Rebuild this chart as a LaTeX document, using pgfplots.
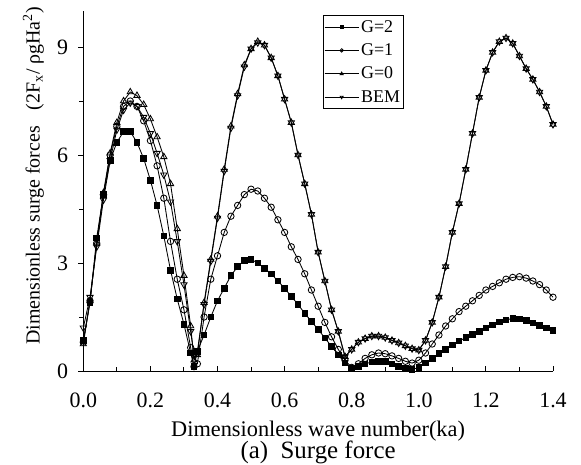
\documentclass[border=0pt]{standalone}
\usepackage{fontspec}
\setmainfont{Liberation Serif}
\usepackage{pgfplots}
\usepackage{pgfplotstable}
\usetikzlibrary{calc}
\pgfplotsset{compat=1.18}

% Dimensionless surge force versus dimensionless wave number ka
\pgfplotstableread{
x     g2    g1    g0    bem
0.00  0.85  0.80  0.75  1.20
0.02  1.90  1.95  1.95  2.05
0.04  3.70  3.55  3.55  3.45
0.06  4.90  4.90  4.95  4.75
0.08  5.85  6.00  6.05  5.85
0.10  6.35  6.80  6.90  6.70
0.12  6.65  7.35  7.50  7.25
0.14  6.65  7.50  7.75  7.45
0.16  6.35  7.35  7.65  7.35
0.18  5.90  6.95  7.40  7.05
0.20  5.30  6.40  7.00  6.60
0.22  4.60  5.70  6.50  6.05
0.24  3.75  4.80  5.95  5.45
0.26  2.80  3.60  5.20  4.70
0.28  2.00  2.55  3.95  3.60
0.30  1.30  1.70  2.65  2.40
0.32  0.50  0.65  1.25  1.10
0.33  0.12  0.12  0.30  0.45
0.34  0.55  0.20  0.45  0.55
0.36  1.00  1.50  1.90  1.85
0.38  1.50  2.55  3.10  3.05
0.40  1.95  3.20  4.30  4.25
0.42  2.30  3.85  5.60  5.55
0.44  2.65  4.30  6.80  6.75
0.46  2.90  4.60  7.70  7.65
0.48  3.07  4.90  8.50  8.45
0.50  3.10  5.05  8.95  8.95
0.52  3.00  5.00  9.15  9.12
0.54  2.85  4.80  9.05  9.05
0.56  2.70  4.55  8.70  8.70
0.58  2.50  4.20  8.20  8.20
0.60  2.30  3.85  7.55  7.55
0.62  2.07  3.45  6.90  6.90
0.64  1.85  3.10  6.00  6.00
0.66  1.60  2.70  5.20  5.20
0.68  1.38  2.25  4.35  4.35
0.70  1.15  1.80  3.30  3.30
0.72  0.92  1.35  2.50  2.50
0.74  0.68  0.95  1.70  1.70
0.76  0.45  0.60  1.10  1.10
0.78  0.22  0.30  0.40  0.40
0.80  0.07  0.10  0.60  0.60
0.82  0.12  0.20  0.80  0.80
0.84  0.20  0.35  0.90  0.90
0.86  0.25  0.45  0.97  0.97
0.88  0.27  0.50  0.97  0.97
0.90  0.26  0.48  0.93  0.93
0.92  0.20  0.42  0.85  0.85
0.94  0.13  0.35  0.78  0.78
0.96  0.07  0.27  0.70  0.70
0.98  0.04  0.22  0.62  0.62
1.00  0.10  0.30  0.58  0.58
1.02  0.22  0.50  0.85  0.85
1.04  0.35  0.75  1.35  1.35
1.06  0.48  1.00  2.05  2.05
1.08  0.60  1.25  2.90  2.90
1.10  0.72  1.45  3.85  3.85
1.12  0.83  1.65  4.65  4.65
1.14  0.93  1.80  5.60  5.60
1.16  1.02  1.95  6.60  6.60
1.18  1.10  2.10  7.60  7.60
1.20  1.20  2.25  8.35  8.35
1.22  1.28  2.35  8.85  8.85
1.24  1.36  2.45  9.15  9.15
1.26  1.42  2.55  9.25  9.25
1.28  1.46  2.60  9.10  9.10
1.30  1.45  2.62  8.75  8.75
1.32  1.40  2.58  8.40  8.40
1.34  1.33  2.50  8.10  8.10
1.36  1.26  2.40  7.75  7.75
1.38  1.20  2.25  7.35  7.35
1.40  1.12  2.05  6.85  6.85
}\surge

\begin{document}
\begin{tikzpicture}
\begin{axis}[
  scale only axis,
  width=469.7bp, height=360bp,
  xmin=0, xmax=1.4, ymin=0, ymax=10,
  axis x line=bottom, axis y line=left,
  axis line style={-, line width=1bp},
  xtick={0,0.2,...,1.4},
  minor xtick={0.1,0.3,...,1.3},
  ytick={0,3,6,9},
  minor ytick={1.5,4.5,7.5},
  xtick align=inside, ytick align=outside,
  major tick length=5bp, minor tick length=4bp,
  every tick/.style={black, line width=0.9bp},
  /pgf/number format/assume math mode=true,
  /pgf/number format/.cd, fixed, fixed zerofill, precision=1, /pgfplots/.cd,
  xticklabel style={font=\fontsize{22}{24}\selectfont, anchor=base, yshift=-36bp, inner sep=0pt},
  yticklabel style={font=\fontsize{22}{24}\selectfont, anchor=east, inner sep=0pt, xshift=-10bp,
    /pgf/number format/precision=0},
  clip=false,
  legend style={at={(0.51,0.989)}, anchor=north west, draw=black, line width=0.8bp,
    font=\fontsize{18}{19}\selectfont, inner xsep=1bp, inner ysep=3bp,
    row sep=6bp, legend cell align=left},
  legend image code/.code={%
    \draw[#1, mark size=1.7bp, mark repeat=2, mark phase=2]
      plot coordinates {(0bp,0bp) (17bp,0bp) (34bp,0bp)};
    \draw[#1, mark=none] (0bp,0bp) -- (13bp,0bp) (21bp,0bp) -- (34bp,0bp);},
  every axis plot/.append style={black, line width=0.85bp, mark size=3.2bp,
    mark options={solid, line width=0.7bp}},
]
\coordinate (O) at (rel axis cs:0,0);
\addplot[mark=square*, mark options={fill=black}, mark size=2.8bp] table[x=x, y=g2] {\surge};
\addlegendentry{G=2}
\addplot[mark=o, mark options={fill=white}] table[x=x, y=g1] {\surge};
\addlegendentry{G=1}
\addplot[mark=triangle, mark options={fill=white}, mark size=3.6bp] table[x=x, y=g0] {\surge};
\addlegendentry{G=0}
\addplot[mark=triangle, mark options={fill=white, rotate=180}, mark size=3.6bp] table[x=x, y=bem] {\surge};
\addlegendentry{BEM}
\end{axis}
\node[anchor=base, font=\fontsize{22.4}{24}\selectfont] at ($(O)+(234.8bp,-65bp)$) {Dimensionless wave number(ka)};
\node[anchor=base, font=\fontsize{25}{27}\selectfont] at ($(O)+(234.8bp,-87.5bp)$) {(a)\hspace{0.5em}Surge force};
\node[rotate=90, font=\fontsize{20}{22}\selectfont] at ($(O)+(-50bp,195bp)$)
  {Dimensionless surge forces\hspace{0.8em}(2F\textsubscript{x}/ ρgHa\textsuperscript{2})};
\pgfresetboundingbox
\path[use as bounding box] ($(O)+(-83.3bp,-94bp)$) rectangle ++(581bp,465bp);
\end{tikzpicture}
\end{document}
